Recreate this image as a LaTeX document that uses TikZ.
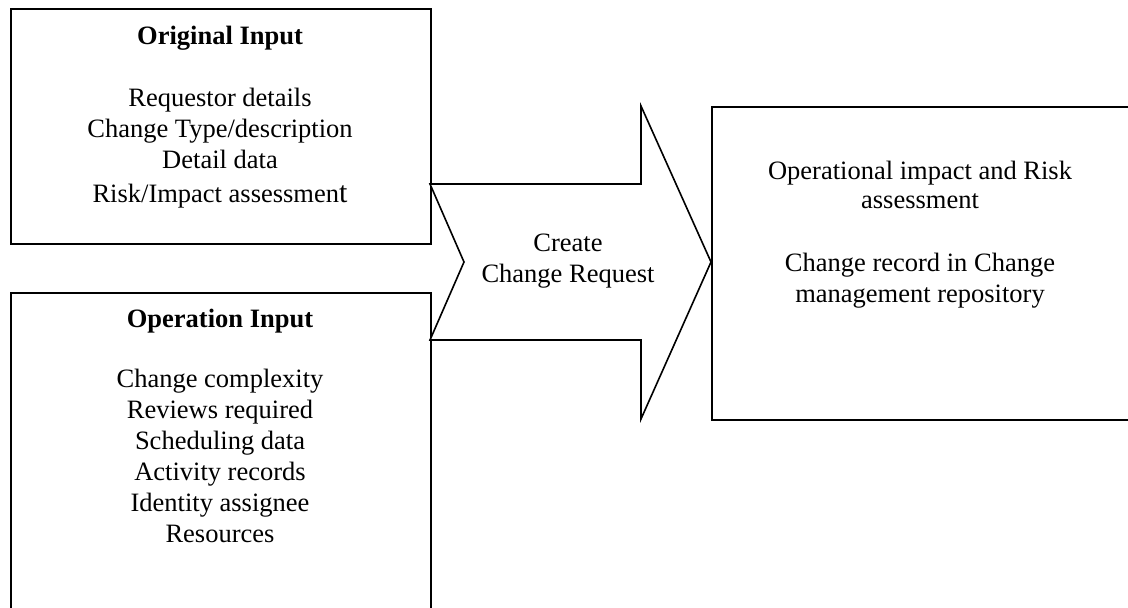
\documentclass[tikz,border=0pt]{standalone}
\usepackage{fontspec}
\setmainfont{Liberation Serif}
\begin{document}
\begin{tikzpicture}[x=1pt,y=-1pt,
  frame/.style={draw=black, line width=1.6pt, fill=white, inner sep=0pt},
  txt/.style={align=center, inner sep=0pt, font=\fontsize{26.5}{31}\selectfont},
  flow/.style={draw=black, line width=1.6pt, fill=white, line join=miter}]
\useasboundingbox (0,0) rectangle (1128,608);
\clip (0,0) rectangle (1128,608);

% input and output boxes
\node[frame, anchor=north west, minimum width=420pt, minimum height=235pt] (orig) at (10,8) {};
\node[frame, anchor=north west, minimum width=420pt, minimum height=330pt] (oper) at (10,292) {};
\node[frame, anchor=north west, minimum width=422pt, minimum height=313pt] (out) at (711,106) {};

% block arrow between inputs and output
\coordinate (a1) at (430,184);
\coordinate (a2) at (641,184);
\coordinate (a3) at (641,106);
\coordinate (tip) at (711,262);
\coordinate (a5) at (641,419);
\coordinate (a6) at (641,340);
\coordinate (a7) at (430,340);
\coordinate (notch) at (464,262);
\draw[flow] (a1) -- (a2) -- (a3) -- (tip) -- (a5) -- (a6) -- (a7) -- (notch) -- cycle;

% texts (each multi-line node is placed by the baseline of its last line)
\node[txt, anchor=base, font=\fontsize{26.5}{31}\selectfont\bfseries] (origT) at (220,44) {Original Input};
\node[txt, anchor=base] (origL) at (220,202) {Requestor details\\Change Type/description\\Detail data\\[3pt]Risk/Impact assessmen{\fontsize{30}{31}\selectfont t}};

\node[txt, anchor=base, font=\fontsize{26.5}{31}\selectfont\bfseries] (operT) at (220,327) {Operation Input};
\node[txt, anchor=base] (operL) at (220,542) {Change complexity\\Reviews required\\Scheduling data\\Activity records\\Identity assignee\\Resources};

\node[txt, anchor=base] (create) at (568,282) {Create\\Change Request};

\node[txt, anchor=base] (outL1) at (920,208) {Operational impact and Risk\\[-2pt]assessment};
\node[txt, anchor=base] (outL2) at (920,302) {Change record in Change\\management repository};
\end{tikzpicture}
\end{document}
